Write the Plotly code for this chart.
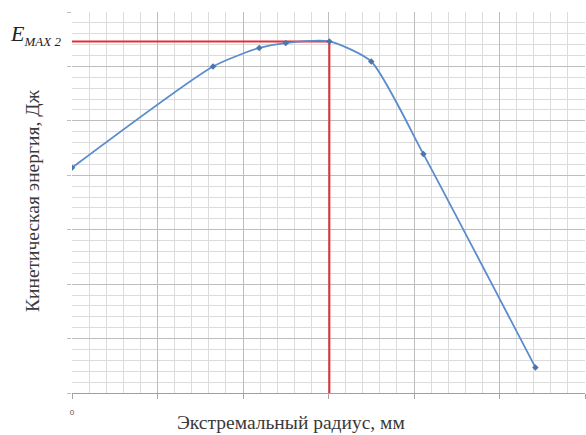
import plotly.graph_objects as go

# Data
radius = [0, 16.5, 21.9, 25.0, 30.1, 35.0, 41.1, 54.2]
energy = [41.4, 60.0, 63.4, 64.3, 64.6, 60.9, 43.9, 4.7]
r_opt = 30.1
e_max = 64.6
x_tickvals = [0, 10, 20, 30, 40, 50, 60]
x_ticktext = ["0", "", "", "", "", "", ""]
y_tickvals = [0, 10, 20, 30, 40, 50, 60, 70]
x_title = "Экстремальный радиус, мм"
y_title = "Кинетическая энергия, Дж"
e_label = "<i>E</i><sub><i><span style='font-size:13px'>MAX 2</span></i></sub>"

fig = go.Figure()
fig.add_trace(go.Scatter(
    x=[0, r_opt, r_opt], y=[e_max, e_max, 0], mode="lines",
    line=dict(color="#e2303a", width=2), hoverinfo="skip", showlegend=False))
fig.add_trace(go.Scatter(
    x=radius, y=energy, mode="lines+markers",
    line=dict(color="#5b8ccc", width=1.8, shape="spline", smoothing=0.6),
    marker=dict(color="#4a76ae", size=5, symbol="diamond"),
    showlegend=False))

serif = "Liberation Serif"
fig.update_layout(
    width=586, height=435,
    margin=dict(l=72, r=1, t=12, b=42),
    paper_bgcolor="white", plot_bgcolor="white",
    font=dict(family=serif, color="#333333"),
    xaxis=dict(range=[0, 60], tickvals=x_tickvals, ticktext=x_ticktext,
               showgrid=True, gridcolor="#bdbdbd", gridwidth=1,
               minor=dict(dtick=2, showgrid=True, gridcolor="#dcdcdc", gridwidth=1),
               ticks="outside", ticklen=5, tickcolor="#a6a6a6",
               showline=True, linecolor="#a0a0a0", linewidth=1,
               tickfont=dict(size=8, color="#555555", family="Liberation Sans"),
               ticklabelstandoff=6, zeroline=False),
    yaxis=dict(range=[0, 70], tickvals=y_tickvals, showticklabels=False,
               showgrid=True, gridcolor="#bdbdbd", gridwidth=1,
               minor=dict(dtick=2, showgrid=True, gridcolor="#dcdcdc", gridwidth=1),
               ticks="outside", ticklen=4, tickcolor="#bdbdbd",
               showline=False, zeroline=False),
)

fig.add_annotation(text=x_title, xref="paper", yref="paper",
                   x=(291 - 72) / 513, y=-29 / 381, xanchor="center", yanchor="middle",
                   showarrow=False, font=dict(family=serif, size=19.5, color="#3a3a3a"))
fig.add_annotation(text=y_title, xref="paper", yref="paper",
                   x=-39 / 513, y=0.504, xanchor="center", yanchor="middle", textangle=-90,
                   showarrow=False, font=dict(family=serif, size=19.5, color="#3a3a3a"))
fig.add_annotation(text=e_label, xref="paper", yref="y",
                   x=-9 / 513, y=e_max, yshift=6, xanchor="right", yanchor="middle",
                   showarrow=False, font=dict(family=serif, size=22, color="#222222"))

fig.write_html("out.html", config={"displayModeBar": False},
               post_script="document.body.style.margin='0';document.body.style.overflow='hidden';")
